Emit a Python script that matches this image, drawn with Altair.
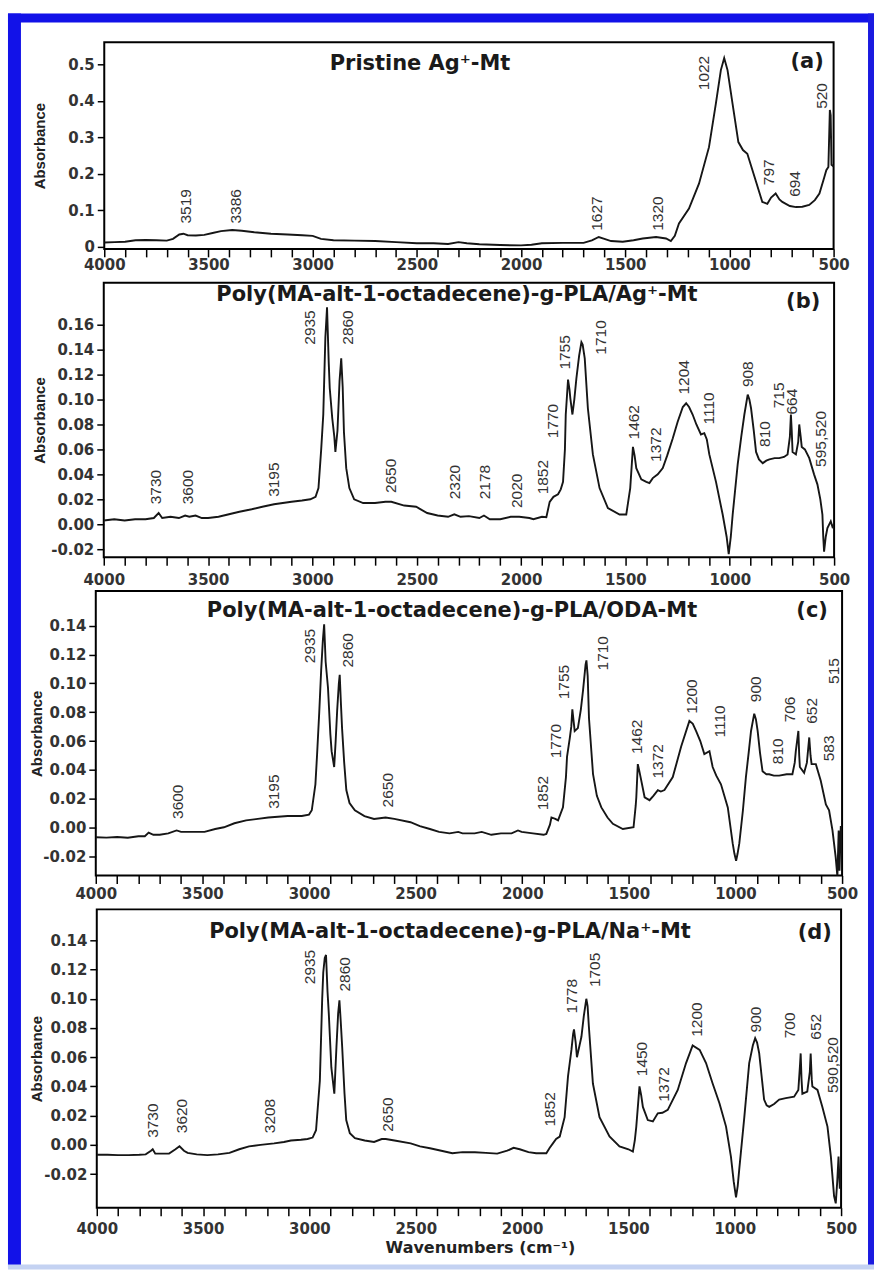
import altair as alt
import pandas as pd

# ---------------- data ----------------
# (a) Pristine Ag+-Mt
a_wn = [4000, 3950, 3900, 3850, 3800, 3750, 3700, 3670, 3640, 3620, 3600, 3560, 3520, 3480, 3440, 3386,
        3340, 3280, 3200, 3120, 3050, 3000, 2960, 2900, 2800, 2700, 2600, 2500, 2420, 2350, 2300, 2260,
        2200, 2100, 2000, 1950, 1900, 1800, 1700, 1660, 1627, 1600, 1568, 1512, 1460, 1416, 1352, 1304,
        1281, 1262, 1242, 1194, 1146, 1098, 1065, 1041, 1025, 1009, 985, 957, 935, 914, 874, 842, 818,
        800, 778, 760, 746, 710, 680, 650, 617, 590, 568, 545, 535, 525, 518, 514, 510, 500]
a_abs = [0.012, 0.013, 0.014, 0.018, 0.019, 0.018, 0.017, 0.022, 0.034, 0.036, 0.032, 0.031, 0.033, 0.038,
         0.043, 0.046, 0.044, 0.040, 0.036, 0.034, 0.032, 0.030, 0.022, 0.018, 0.017, 0.016, 0.013, 0.010,
         0.010, 0.008, 0.013, 0.010, 0.007, 0.005, 0.004, 0.006, 0.010, 0.011, 0.011, 0.018, 0.027, 0.022,
         0.016, 0.014, 0.018, 0.023, 0.027, 0.023, 0.016, 0.030, 0.064, 0.105, 0.173, 0.273, 0.392, 0.484,
         0.517, 0.484, 0.392, 0.287, 0.265, 0.255, 0.182, 0.123, 0.118, 0.135, 0.146, 0.130, 0.123, 0.112,
         0.109, 0.110, 0.115, 0.128, 0.146, 0.190, 0.210, 0.219, 0.375, 0.360, 0.225, 0.220]
a_lab = ["3519", "3386", "1627", "1320", "1022", "797", "694", "520"]
a_lab_wn = [3607, 3368, 1637, 1343, 1122, 811, 687, 554]
a_lab_abs = [0.064, 0.064, 0.044, 0.044, 0.429, 0.169, 0.137, 0.378]

# (b) Poly(MA-alt-1-octadecene)-g-PLA/Ag+-Mt
b_wn = [4000, 3950, 3900, 3850, 3800, 3760, 3737, 3720, 3680, 3640, 3610, 3590, 3560, 3530, 3500, 3450,
        3400, 3350, 3291, 3240, 3184, 3100, 3050, 3010, 2985, 2971, 2958, 2948, 2938, 2930, 2922, 2917,
        2905, 2895, 2890, 2880, 2870, 2862, 2855, 2849, 2838, 2823, 2800, 2757, 2700, 2650, 2622, 2560,
        2503, 2450, 2400, 2350, 2320, 2290, 2250, 2200, 2178, 2150, 2100, 2050, 2009, 1960, 1941, 1900,
        1879, 1863, 1845, 1823, 1810, 1799, 1790, 1786, 1775, 1768, 1764, 1754, 1745, 1735, 1722, 1711,
        1705, 1695, 1680, 1656, 1624, 1584, 1528, 1496, 1477, 1464, 1456, 1448, 1424, 1400, 1385, 1369,
        1345, 1321, 1300, 1273, 1250, 1225, 1209, 1195, 1178, 1160, 1138, 1122, 1110, 1098, 1066, 1034,
        1015, 1005, 995, 986, 962, 945, 930, 914, 906, 898, 885, 874, 860, 842, 825, 810, 785, 763, 740,
        723, 712, 707, 703, 699, 683, 672, 667, 660, 655, 640, 619, 596, 580, 566, 556, 552, 548, 540,
        532, 516, 508, 500]
b_abs = [0.003, 0.004, 0.003, 0.004, 0.004, 0.005, 0.009, 0.005, 0.006, 0.005, 0.007, 0.006, 0.007, 0.005,
         0.005, 0.006, 0.008, 0.010, 0.012, 0.014, 0.016, 0.018, 0.019, 0.020, 0.022, 0.029, 0.060, 0.088,
         0.150, 0.174, 0.130, 0.109, 0.085, 0.070, 0.058, 0.075, 0.115, 0.133, 0.110, 0.074, 0.045, 0.029,
         0.020, 0.017, 0.017, 0.018, 0.018, 0.015, 0.014, 0.009, 0.007, 0.006, 0.008, 0.006, 0.0065, 0.005,
         0.007, 0.004, 0.004, 0.006, 0.006, 0.005, 0.004, 0.006, 0.0056, 0.018, 0.022, 0.024, 0.028, 0.034,
         0.060, 0.088, 0.116, 0.108, 0.101, 0.088, 0.100, 0.117, 0.135, 0.146, 0.144, 0.133, 0.093, 0.056,
         0.029, 0.013, 0.0078, 0.0078, 0.029, 0.062, 0.055, 0.045, 0.036, 0.034, 0.033, 0.037, 0.040, 0.045,
         0.055, 0.069, 0.082, 0.094, 0.097, 0.094, 0.088, 0.080, 0.072, 0.073, 0.068, 0.056, 0.034, 0.0078,
         -0.010, -0.024, -0.010, 0.0078, 0.048, 0.070, 0.088, 0.104, 0.100, 0.093, 0.075, 0.058, 0.052, 0.049,
         0.051, 0.052, 0.053, 0.053, 0.054, 0.056, 0.070, 0.088, 0.075, 0.058, 0.056, 0.066, 0.080, 0.070,
         0.062, 0.060, 0.053, 0.040, 0.032, 0.020, 0.0078, -0.010, -0.022, -0.010, -0.003, 0.0024, -0.002,
         0.000]
b_lab = ["3730", "3600", "3195", "2935", "2860", "2650", "2320", "2178", "2020", "1852", "1770", "1755",
         "1710", "1462", "1372", "1204", "1110", "908", "810", "715", "664", "595,520"]
b_lab_wn = [3750, 3598, 3184, 3010, 2831, 2623, 2317, 2174, 2021, 1896, 1847, 1791, 1616, 1461, 1353, 1217,
            1098, 914, 830, 762, 700, 565]
b_lab_abs = [0.016, 0.016, 0.022, 0.144, 0.144, 0.025, 0.020, 0.020, 0.013, 0.024, 0.069, 0.124, 0.136,
             0.068, 0.050, 0.104, 0.080, 0.110, 0.062, 0.093, 0.088, 0.046]

# (c) Poly(MA-alt-1-octadecene)-g-PLA/ODA-Mt
c_wn = [4000, 3950, 3900, 3850, 3800, 3770, 3752, 3730, 3700, 3660, 3621, 3600, 3560, 3520, 3490, 3440,
        3399, 3350, 3295, 3240, 3191, 3100, 3034, 3000, 2987, 2970, 2962, 2952, 2943, 2935, 2929, 2922,
        2911, 2900, 2894, 2882, 2875, 2868, 2860, 2856, 2850, 2845, 2835, 2825, 2810, 2785, 2740, 2695,
        2641, 2600, 2524, 2480, 2433, 2390, 2341, 2300, 2280, 2223, 2190, 2145, 2100, 2050, 2020, 2003,
        1950, 1900, 1887, 1870, 1863, 1845, 1832, 1809, 1795, 1790, 1777, 1770, 1765, 1760, 1754, 1739,
        1725, 1715, 1703, 1699, 1693, 1687, 1668, 1650, 1629, 1600, 1575, 1528, 1478, 1468, 1465, 1458,
        1452, 1445, 1426, 1403, 1385, 1364, 1350, 1333, 1294, 1255, 1216, 1200, 1185, 1165, 1146, 1122,
        1107, 1090, 1068, 1036, 1013, 1005, 997, 990, 982, 965, 951, 938, 927, 912, 904, 896, 885, 873,
        855, 842, 820, 795, 760, 733, 722, 717, 705, 701, 698, 678, 665, 654, 648, 643, 623, 600, 576,
        561, 545, 530, 522, 516, 512, 506, 500]
c_abs = [-0.0067, -0.007, -0.0065, -0.007, -0.006, -0.006, -0.0035, -0.005, -0.005, -0.004, -0.002, -0.003,
         -0.003, -0.003, -0.003, -0.001, 0.0002, 0.003, 0.005, 0.006, 0.007, 0.008, 0.008, 0.009, 0.012,
         0.030, 0.051, 0.080, 0.109, 0.130, 0.141, 0.115, 0.097, 0.065, 0.053, 0.042, 0.060, 0.081, 0.100,
         0.106, 0.085, 0.069, 0.045, 0.026, 0.017, 0.012, 0.008, 0.006, 0.007, 0.006, 0.0037, 0.001, -0.001,
         -0.003, -0.004, -0.003, -0.004, -0.004, -0.003, -0.005, -0.004, -0.004, -0.002, -0.003, -0.004,
         -0.005, -0.0044, 0.002, 0.007, 0.006, 0.005, 0.014, 0.035, 0.049, 0.062, 0.070, 0.082, 0.075, 0.067,
         0.069, 0.082, 0.095, 0.113, 0.116, 0.105, 0.076, 0.037, 0.022, 0.014, 0.007, 0.0026, -0.001, 0.0002,
         0.015, 0.021, 0.044, 0.040, 0.035, 0.021, 0.019, 0.022, 0.026, 0.025, 0.026, 0.035, 0.056, 0.074,
         0.072, 0.067, 0.060, 0.051, 0.053, 0.042, 0.036, 0.030, 0.014, -0.011, -0.018, -0.023, -0.018,
         -0.011, 0.012, 0.035, 0.052, 0.067, 0.079, 0.075, 0.067, 0.052, 0.039, 0.037, 0.037, 0.036, 0.036,
         0.037, 0.037, 0.045, 0.053, 0.067, 0.050, 0.042, 0.038, 0.045, 0.0625, 0.050, 0.044, 0.044, 0.0325,
         0.016, 0.012, -0.002, -0.0205, -0.034, -0.002, -0.030, 0.001, -0.020]
c_lab = ["3600", "3195", "2935", "2860", "2650", "1852", "1770", "1755", "1710", "1462", "1372", "1200",
         "1110", "900", "810", "706", "652", "583", "515"]
c_lab_wn = [3613, 3164, 2994, 2819, 2628, 1902, 1843, 1805, 1623, 1464, 1361, 1203, 1072, 902, 799, 746,
            641, 563, 537]
c_lab_abs = [0.006, 0.013, 0.114, 0.111, 0.014, 0.012, 0.048, 0.089, 0.109, 0.051, 0.034, 0.079, 0.0625,
             0.087, 0.044, 0.073, 0.072, 0.046, 0.0996]

# (d) Poly(MA-alt-1-octadecene)-g-PLA/Na+-Mt
d_wn = [4000, 3950, 3900, 3850, 3800, 3770, 3745, 3737, 3725, 3700, 3660, 3630, 3611, 3590, 3573, 3530,
        3480, 3430, 3376, 3330, 3284, 3230, 3166, 3120, 3087, 3040, 3009, 2985, 2969, 2951, 2940, 2935,
        2928, 2922, 2915, 2909, 2897, 2883, 2873, 2865, 2859, 2853, 2846, 2835, 2827, 2810, 2786, 2740,
        2696, 2660, 2641, 2600, 2524, 2480, 2433, 2380, 2328, 2280, 2222, 2170, 2117, 2070, 2040, 2011,
        1970, 1934, 1886, 1870, 1855, 1840, 1823, 1800, 1784, 1768, 1760, 1756, 1748, 1742, 1730, 1721,
        1710, 1698, 1692, 1686, 1667, 1636, 1589, 1542, 1500, 1479, 1470, 1463, 1448, 1440, 1432, 1409,
        1385, 1362, 1340, 1315, 1268, 1229, 1198, 1165, 1135, 1104, 1072, 1041, 1018, 1005, 994, 986, 979,
        955, 932, 915, 904, 895, 885, 862, 850, 838, 815, 791, 760, 721, 701, 693, 690, 686, 682, 659, 647,
        643, 638, 635, 611, 588, 564, 548, 533, 525, 518, 512, 506, 500]
d_abs = [-0.0068, -0.0068, -0.007, -0.007, -0.0068, -0.0065, -0.004, -0.003, -0.006, -0.006, -0.006, -0.003,
         -0.001, -0.004, -0.0055, -0.0065, -0.007, -0.0065, -0.0055, -0.003, -0.001, 0.000, 0.001, 0.002,
         0.003, 0.0035, 0.004, 0.005, 0.010, 0.044, 0.100, 0.118, 0.128, 0.130, 0.105, 0.090, 0.053, 0.035,
         0.067, 0.090, 0.099, 0.085, 0.067, 0.035, 0.017, 0.008, 0.0046, 0.003, 0.002, 0.004, 0.004, 0.003,
         0.001, -0.001, -0.0023, -0.004, -0.0057, -0.005, -0.005, -0.0055, -0.006, -0.004, -0.002, -0.003,
         -0.005, -0.0057, -0.0057, -0.002, 0.001, 0.004, 0.0057, 0.019, 0.047, 0.065, 0.076, 0.079, 0.070,
         0.060, 0.068, 0.074, 0.088, 0.100, 0.095, 0.081, 0.042, 0.019, 0.0057, -0.001, -0.003, -0.0046,
         0.003, 0.0125, 0.040, 0.034, 0.026, 0.017, 0.016, 0.0216, 0.022, 0.024, 0.0376, 0.056, 0.068, 0.065,
         0.056, 0.042, 0.0285, 0.0125, -0.008, -0.025, -0.036, -0.028, -0.017, 0.019, 0.056, 0.068, 0.073,
         0.070, 0.0626, 0.031, 0.027, 0.026, 0.028, 0.031, 0.032, 0.033, 0.0376, 0.055, 0.0626, 0.045, 0.035,
         0.0364, 0.050, 0.0626, 0.045, 0.040, 0.0376, 0.026, 0.0125, -0.008, -0.035, -0.040, -0.025, -0.008,
         -0.030, -0.020]
d_lab = ["3730", "3620", "3208", "2935", "2860", "2650", "1852", "1778", "1705", "1450", "1372", "1200",
         "900", "700", "652", "590,520"]
d_lab_wn = [3737, 3598, 3184, 2996, 2832, 2630, 1870, 1764, 1659, 1436, 1331, 1176, 898, 742, 618, 540]
d_lab_abs = [0.0048, 0.008, 0.008, 0.110, 0.105, 0.009, 0.0125, 0.090, 0.108, 0.047, 0.0296, 0.074, 0.077,
             0.073, 0.072, 0.0355]

titles = ["Pristine Ag\u207a-Mt",
          "Poly(MA-alt-1-octadecene)-g-PLA/Ag\u207a-Mt",
          "Poly(MA-alt-1-octadecene)-g-PLA/ODA-Mt",
          "Poly(MA-alt-1-octadecene)-g-PLA/Na\u207a-Mt"]
letters = ["(a)", "(b)", "(c)", "(d)"]
x_ticks = list(range(500, 4001, 100))
a_yticks = [0, 0.1, 0.2, 0.3, 0.4, 0.5]
b_yticks = [-0.02, 0.0, 0.02, 0.04, 0.06, 0.08, 0.10, 0.12, 0.14, 0.16]
c_yticks = [-0.02, 0.0, 0.02, 0.04, 0.06, 0.08, 0.10, 0.12, 0.14]
d_yticks = [-0.02, 0.0, 0.02, 0.04, 0.06, 0.08, 0.10, 0.12, 0.14]

# ---------------- styling ----------------
WFONT = "DejaVu Sans"
NFONT = "Liberation Sans"
LABCOL = "#333333"
MINUS_FIX = "replace(datum.label, '\u2212', '-')"


def panel(wn, ab, lt, lw, la, w, h, ydom, yticks, yfmt, title, letter,
          tpos, lpos, xpad, ytx, xtitle=None, extra=None):
    df = pd.DataFrame({"wn": wn, "A": ab})
    ldf = pd.DataFrame({"wn": lw, "A": la, "t": lt})
    xs = alt.Scale(domain=[500, 4000], reverse=True, nice=False, zero=False)
    ys = alt.Scale(domain=ydom, nice=False, zero=False)
    xaxis_kw = dict(values=x_ticks, format="d",
                    labelExpr="datum.value % 500 == 0 ? datum.label : ''",
                    tickSize=8, tickColor="black", tickWidth=1.5, labelPadding=xpad,
                    domain=False, grid=False, labelFlush=False, labelOverlap=False,
                    labelBound=False,
                    labelFont=WFONT, labelFontSize=15, labelFontWeight="bold",
                    labelColor=LABCOL)
    if xtitle:
        xaxis_kw.update(title=xtitle, titleFont=WFONT, titleFontSize=16,
                        titleFontWeight="bold", titleColor="#222222",
                        titleX=384, titleY=40, titleBaseline="middle", titleAlign="center")
    else:
        xaxis_kw.update(title=None)
    yaxis_kw = dict(values=yticks, format=yfmt, labelExpr=MINUS_FIX,
                    tickSize=7, tickColor="black", tickWidth=1.5, labelPadding=3,
                    domain=False, grid=False, labelOverlap=False, labelBound=False,
                    labelFont=WFONT, labelFontSize=15, labelFontWeight="bold",
                    labelColor=LABCOL,
                    title="Absorbance", titleFont=NFONT, titleFontSize=15,
                    titleFontWeight="bold", titleColor="#222222",
                    titleX=ytx, titleY=h / 2, titleAngle=270,
                    titleAlign="center", titleBaseline="middle")
    line = alt.Chart(df).mark_line(color="#161616", strokeWidth=1.9, clip=True).encode(
        x=alt.X("wn:Q", scale=xs, axis=alt.Axis(**xaxis_kw)),
        y=alt.Y("A:Q", scale=ys, axis=alt.Axis(**yaxis_kw)),
        order="wn:Q",
    )
    labs = alt.Chart(ldf).mark_text(angle=270, align="left", baseline="middle",
                                    font=NFONT, fontSize=15.5, color=LABCOL,
                                    clip=True).encode(
        x=alt.X("wn:Q", scale=xs, axis=alt.Axis(**xaxis_kw)),
        y=alt.Y("A:Q", scale=ys, axis=alt.Axis(**yaxis_kw)),
        text="t:N")
    one = pd.DataFrame({"k": [0]})
    ttl = alt.Chart(one).mark_text(font=WFONT, fontSize=21, fontWeight="bold",
                                   color="#1a1a1a", align="center", baseline="middle").encode(
        x=alt.value(tpos[0]), y=alt.value(tpos[1]), text=alt.value(title))
    let = alt.Chart(one).mark_text(font=WFONT, fontSize=21, fontWeight="bold",
                                   color="#1a1a1a", align="center", baseline="middle").encode(
        x=alt.value(lpos[0]), y=alt.value(lpos[1]), text=alt.value(letter))
    layers = [line, labs, ttl, let] + (extra or [])
    return alt.layer(*layers).properties(width=w, height=h)


# decoration for the page frame (in panel (a) coordinates; a's plot origin is at 103.5, 40)
OX, OY = 103.5, 40
one = pd.DataFrame({"k": [0]})


def prect(x1, y1, x2, y2, color, op=1.0):
    return alt.Chart(one).mark_rect(color=color, opacity=op).encode(
        x=alt.value(x1 - OX), x2=alt.value(x2 - OX),
        y=alt.value(y1 - OY), y2=alt.value(y2 - OY))


frame = [
    prect(0, 0, 876, 1270, "white", 0.0),
    prect(7, 11, 20, 1268, "#1212e8"),
    prect(7, 11, 875, 20, "#1212e8"),
    prect(869, 11, 875, 1268, "#1a1ae0"),
    prect(7, 1265, 875, 1270, "#c4d2f2"),
]

pa = panel(a_wn, a_abs, a_lab, a_lab_wn, a_lab_abs, 731, 207, [-0.0055, 0.560], a_yticks, ".1~f",
           titles[0], letters[0], (316.5, 22), (704.5, 20), 1, -64.5, extra=frame)
pb = panel(b_wn, b_abs, b_lab, b_lab_wn, b_lab_abs, 732, 275, [-0.0264, 0.1936], b_yticks, ".2f",
           titles[1], letters[1], (354, 12), (701, 19), 7, -64)
pc = panel(c_wn, c_abs, c_lab, c_lab_wn, c_lab_abs, 748, 285, [-0.0332, 0.164], c_yticks, ".2f",
           titles[2], letters[2], (357, 20), (718, 20), 3, -59)
pd_ = panel(d_wn, d_abs, d_lab, d_lab_wn, d_lab_abs, 746, 299, [-0.043, 0.1612], d_yticks, ".2f",
            titles[3], letters[3], (354, 23), (719.6, 24), 6, -60, xtitle="Wavenumbers (cm\u207b\u00b9)")

chart = alt.vconcat(pa, pb, pc, pd_, spacing=34, bounds="flush", center=True).properties(
    padding=0, background="white"
).configure_view(stroke="black", strokeWidth=2)

chart.save("out.html", embed_options={"renderer": "svg", "actions": False})
